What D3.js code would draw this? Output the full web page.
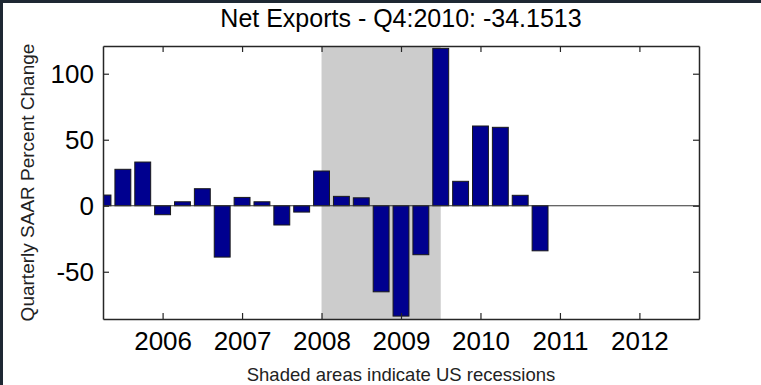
<!DOCTYPE html>
<html>
<head>
<meta charset="utf-8">
<script src="https://cdn.jsdelivr.net/npm/d3@7"></script>
<style>
  body { margin: 0; background: #fff; }
  text { font-family: Arial, "Liberation Sans", sans-serif; }
</style>
</head>
<body>
<svg id="chart" width="761" height="385"></svg>
<script>
// quarterly data, Q2:2005 .. Q4:2010
const quarters = ["2005Q2", "2005Q3", "2005Q4", "2006Q1", "2006Q2", "2006Q3", "2006Q4",
    "2007Q1", "2007Q2", "2007Q3", "2007Q4", "2008Q1", "2008Q2", "2008Q3", "2008Q4",
    "2009Q1", "2009Q2", "2009Q3", "2009Q4", "2010Q1", "2010Q2", "2010Q3", "2010Q4"];
const netExports = [8.1, 27.6, 33.1, -6.8, 3.0, 12.9, -38.9,
    6.3, 3.0, -14.6, -4.8, 26.3, 7.1, 6.0, -65.2,
    -83.6, -37.1, 119.2, 18.5, 60.4, 59.4, 7.9, -34.1513];
const yearTicks = [2006, 2007, 2008, 2009, 2010, 2011, 2012];
const valueTicks = [-50, 0, 50, 100];
const recessions = [[2008.0, 2009.5]];
const xExtent = [2005.25, 2012.75];
const yExtent = [-85.8, 121];

const titleText = "Net Exports - Q4:2010: " + netExports[netExports.length - 1];
const yLabel = "Quarterly SAAR Percent Change";
const xLabel = "Shaded areas indicate US recessions";

function quarterToYear(q) {
    return +q.slice(0, 4) + (+q.slice(5) - 1) / 4;
}

const svg = d3.select("#chart");
const plot = { left: 103, right: 699, top: 46, bottom: 319 };

const x = d3.scaleLinear().domain(xExtent).range([plot.left, plot.right]);
const y = d3.scaleLinear().domain(yExtent).range([plot.bottom, plot.top]);

// dark window frame at top/left
svg.append("rect").attr("x", 0).attr("y", 0).attr("width", 761).attr("height", 3).attr("fill", "#1e2833");
svg.append("rect").attr("x", 0).attr("y", 0).attr("width", 3).attr("height", 385).attr("fill", "#1e2833");

svg.append("defs").append("clipPath").attr("id", "plotclip")
    .append("rect")
    .attr("x", plot.left).attr("y", plot.top)
    .attr("width", plot.right - plot.left).attr("height", plot.bottom - plot.top);

const g = svg.append("g").attr("clip-path", "url(#plotclip)");

// recession shading
g.selectAll("rect.shade")
    .data(recessions)
    .enter().append("rect")
    .attr("class", "shade")
    .attr("x", d => x(d[0]))
    .attr("width", d => x(d[1]) - x(d[0]))
    .attr("y", plot.top)
    .attr("height", plot.bottom - plot.top)
    .attr("fill", "#cccccc");

// bars
const barW = (x(2006.25) - x(2006)) * 0.8;
const data = quarters.map((q, i) => ({ t: quarterToYear(q), v: netExports[i] }));

g.selectAll("rect.bar")
    .data(data)
    .enter().append("rect")
    .attr("class", "bar")
    .attr("x", d => x(d.t) - barW / 2)
    .attr("width", barW)
    .attr("y", d => y(Math.max(0, d.v)))
    .attr("height", d => Math.abs(y(d.v) - y(0)))
    .attr("fill", "#00008f")
    .attr("stroke", "#1a1a1a")
    .attr("stroke-width", 1);

// zero baseline
svg.append("line")
    .attr("x1", plot.left).attr("x2", plot.right)
    .attr("y1", y(0)).attr("y2", y(0))
    .attr("stroke", "#333").attr("stroke-width", 1.2);

// axes (ticks point inward), plain hyphen for negatives
const plainFmt = d => String(d);
const bottomAxis = svg.append("g")
    .attr("transform", "translate(0," + plot.bottom + ")")
    .call(d3.axisBottom(x).tickValues(yearTicks).tickFormat(plainFmt)
        .tickSizeInner(-6).tickSizeOuter(0).tickPadding(13));
const topAxis = svg.append("g")
    .attr("transform", "translate(0," + plot.top + ")")
    .call(d3.axisTop(x).tickValues(yearTicks).tickFormat("")
        .tickSizeInner(-6).tickSizeOuter(0));
const leftAxis = svg.append("g")
    .attr("transform", "translate(" + plot.left + ",0)")
    .call(d3.axisLeft(y).tickValues(valueTicks).tickFormat(plainFmt)
        .tickSizeInner(-6).tickSizeOuter(0).tickPadding(9));
const rightAxis = svg.append("g")
    .attr("transform", "translate(" + plot.right + ",0)")
    .call(d3.axisRight(y).tickValues(valueTicks).tickFormat("")
        .tickSizeInner(-6).tickSizeOuter(0));

[bottomAxis, topAxis, leftAxis, rightAxis].forEach(a => {
    a.select(".domain").attr("stroke", "#262626").attr("stroke-width", 1.5);
    a.selectAll(".tick line").attr("stroke", "#262626").attr("stroke-width", 1.2);
    a.selectAll("text").attr("font-size", 26).attr("fill", "#000")
        .attr("font-family", "Arial, 'Liberation Sans', sans-serif");
});

// title and labels
svg.append("text")
    .attr("x", (plot.left + plot.right) / 2)
    .attr("y", 27)
    .attr("text-anchor", "middle")
    .attr("font-size", 25)
    .text(titleText);

svg.append("text")
    .attr("transform", "translate(34," + (plot.top + plot.bottom) / 2 + ") rotate(-90)")
    .attr("text-anchor", "middle")
    .attr("font-size", 19)
    .attr("fill", "#222")
    .text(yLabel);

svg.append("text")
    .attr("x", (plot.left + plot.right) / 2)
    .attr("y", 381)
    .attr("text-anchor", "middle")
    .attr("font-size", 18.5)
    .attr("fill", "#222")
    .text(xLabel);
</script>
</body>
</html>
